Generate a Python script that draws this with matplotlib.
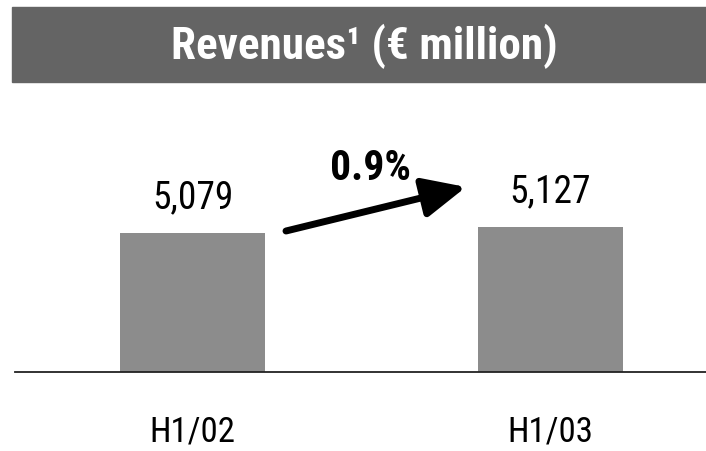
import matplotlib.pyplot as plt
from matplotlib.patches import Rectangle
from matplotlib.transforms import blended_transform_factory

# DATA
periods = ["H1/02", "H1/03"]
revenues = [5079, 5127]
value_labels = ["5,079", "5,127"]

TITLE = "Revenues\u00b9 (\u20ac million)"
FONT = ["Roboto Condensed", "DejaVu Sans"]
BAR_COLOR = "#8c8c8c"
HEADER_COLOR = "#646464"

W, H = 706, 451


def main():
    plt.rcParams["font.family"] = FONT
    fig = plt.figure(figsize=(W / 100, H / 100), dpi=100)

    # header band
    fig.patches.append(Rectangle((12 / W, 1 - 82 / H), 1 - 12 / W, 75 / H,
                                 transform=fig.transFigure, color=HEADER_COLOR,
                                 zorder=0))
    fig.text(364 / W, 1 - 46 / H, TITLE, color="white",
             fontsize=32.5, fontweight="bold", ha="center", va="center")

    # bars
    ax = fig.add_axes([15 / W, 1 - 372 / H, 1 - 15 / W, 272 / H])
    x = list(range(len(periods)))
    ax.bar(x, revenues, width=0.406, color=BAR_COLOR, zorder=2)
    ax.set_xlim(-0.4965, 1.436)
    ax.set_ylim(3967, 6143)

    for xi, v, lab in zip(x, revenues, value_labels):
        ax.annotate(lab, (xi, v), xytext=(0, 12), textcoords="offset points",
                    ha="center", va="bottom", fontsize=27)

    # category labels under the baseline
    trans = blended_transform_factory(ax.transData, fig.transFigure)
    for xi, p in zip(x, periods):
        ax.text(xi, 1 - 442 / H, p, transform=trans, ha="center",
                va="baseline", fontsize=25)

    ax.set_xticks([])
    ax.set_yticks([])
    for side in ["top", "left", "right"]:
        ax.spines[side].set_visible(False)
    ax.spines["bottom"].set_linewidth(1.3)
    ax.spines["bottom"].set_color("#222222")
    ax.patch.set_alpha(0)

    # growth arrow
    growth = (revenues[1] / revenues[0] - 1) * 100
    ax.annotate("", xy=(466 / W, 1 - 187 / H), xytext=(286 / W, 1 - 231 / H),
                xycoords="figure fraction", textcoords="figure fraction",
                arrowprops=dict(arrowstyle="-|>,head_length=1.3,head_width=0.6",
                                mutation_scale=20, lw=5, color="black",
                                shrinkA=0, shrinkB=0))
    fig.text(371 / W, 1 - 168 / H, f"{growth:.1f}%", fontsize=30,
             fontweight="bold", ha="center", va="center")

    fig.savefig("out.png", dpi=100)
    plt.close(fig)


if __name__ == "__main__":
    main()
